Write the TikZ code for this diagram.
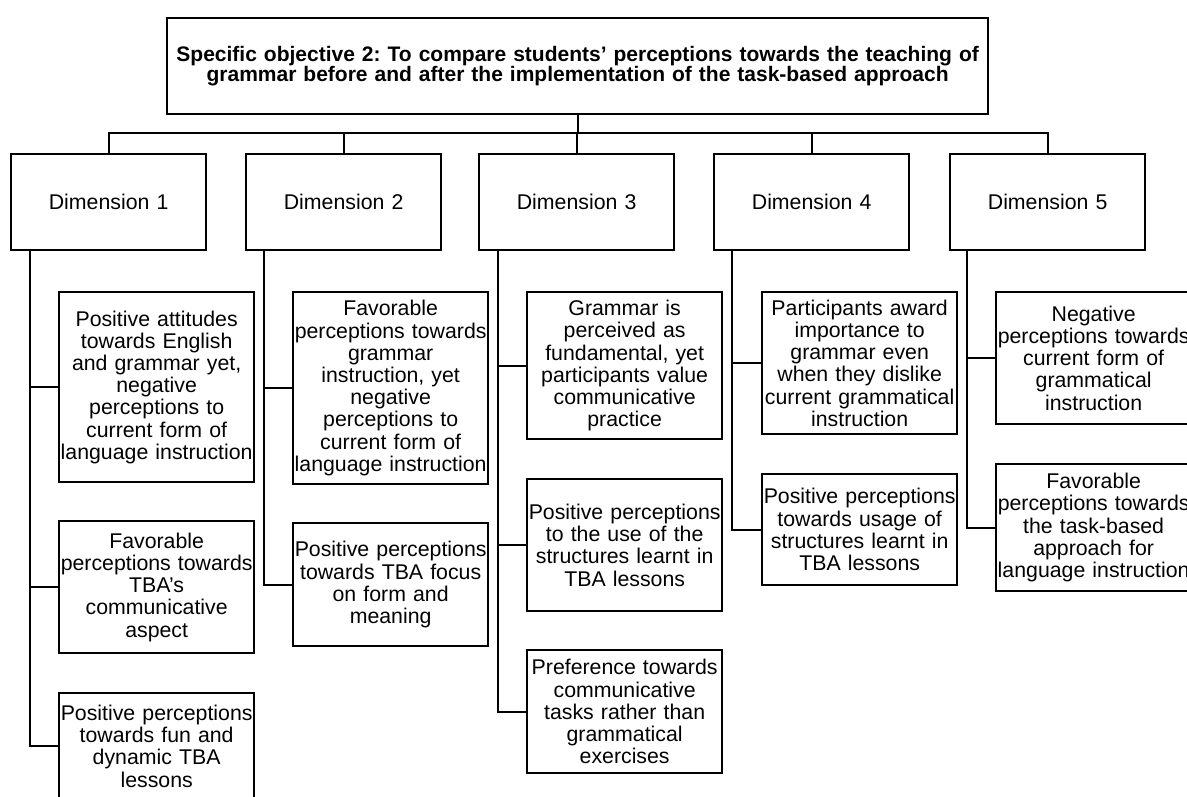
\documentclass[tikz,border=0pt]{standalone}
\usepackage{fontspec}
\setmainfont{Liberation Sans}
\frenchspacing
\begin{document}
\begin{tikzpicture}[x=1pt,y=-1pt,
  box/.style={draw=black,line width=2.3pt,fill=white,inner xsep=1.5pt,inner ysep=0pt,
    align=center,font=\fontsize{21.3}{22.2}\selectfont},
  topbox/.style={box,anchor=north west,minimum width=821pt,minimum height=96pt,
    text width=815pt,font=\fontsize{21}{18}\selectfont\bfseries},
  dimbox/.style={box,anchor=north west,minimum width=195pt,minimum height=96pt,text width=190pt},
  leaf/.style={box,anchor=north west,minimum width=195pt,text width=192pt},
  link/.style={line width=2.3pt,line join=miter}
]
\useasboundingbox (0,0) rectangle (1187,796);
\fill[white] (0,0) rectangle (1187,796);

\node[topbox] (top) at (166,17) {Specific objective 2: To compare students’ perceptions towards the teaching of\\grammar before and after the implementation of the task-based approach};

\node[dimbox] (d1) at (10,153) {Dimension 1};
\node[dimbox] (d2) at (245,153) {Dimension 2};
\node[dimbox] (d3) at (478,153) {Dimension 3};
\node[dimbox] (d4) at (713,153) {Dimension 4};
\node[dimbox] (d5) at (949,153) {Dimension 5};

\coordinate (bus) at (0,133);
\draw[link] (top.south) -- (top.south |- bus);
\draw[link] (d1.north) -- (d1.north |- bus) -- (d5.north |- bus) -- (d5.north);
\foreach \d in {d2,d3,d4} \draw[link] (\d.north) -- (\d.north |- bus);

% Dimension 1 leaves
\node[leaf,minimum height=190pt] (l11) at (58,291) {Positive attitudes\\towards English\\and grammar yet,\\negative\\perceptions to\\current form of\\language instruction};
\node[leaf,minimum height=132pt] (l12) at (58,520) {Favorable\\perceptions towards\\TBA’s\\communicative\\aspect};
\node[leaf,minimum height=106pt] (l13) at (58,692) {Positive perceptions\\towards fun and\\dynamic TBA\\lessons};

% Dimension 2 leaves
\node[leaf,minimum height=192pt] (l21) at (292,291) {Favorable\\perceptions towards\\grammar\\instruction, yet\\negative\\perceptions to\\current form of\\language instruction};
\node[leaf,minimum height=123pt] (l22) at (292,522) {Positive perceptions\\towards TBA focus\\on form and\\meaning};

% Dimension 3 leaves
\node[leaf,minimum height=147pt] (l31) at (526,291) {Grammar is\\perceived as\\fundamental, yet\\participants value\\communicative\\practice};
\node[leaf,minimum height=132pt] (l32) at (526,478) {Positive perceptions\\to the use of the\\structures learnt in\\TBA lessons};
\node[leaf,minimum height=123pt] (l33) at (526,649) {Preference towards\\communicative\\tasks rather than\\grammatical\\exercises};

% Dimension 4 leaves
\node[leaf,minimum height=142pt] (l41) at (761,291) {Participants award\\importance to\\grammar even\\when they dislike\\current grammatical\\instruction};
\node[leaf,minimum height=111pt] (l42) at (761,473) {Positive perceptions\\towards usage of\\structures learnt in\\TBA lessons};

% Dimension 5 leaves
\node[leaf,minimum height=132pt] (l51) at (995,291) {Negative\\perceptions towards\\current form of\\grammatical\\instruction};
\node[leaf,minimum height=127pt] (l52) at (995,463) {Favorable\\perceptions towards\\the task-based\\approach for\\language instruction};

% trunks
\coordinate[xshift=20pt] (t1) at (d1.south west);
\coordinate[xshift=19pt] (t2) at (d2.south west);
\coordinate[xshift=20pt] (t3) at (d3.south west);
\coordinate[xshift=19pt] (t4) at (d4.south west);
\coordinate[xshift=18pt] (t5) at (d5.south west);

\draw[link] (t1) |- (l13.west);
\draw[link] (t1 |- l11.west) -- (l11.west);
\draw[link] (t1 |- l12.west) -- (l12.west);

\draw[link] (t2) |- (l22.west);
\draw[link] (t2 |- l21.west) -- (l21.west);

\draw[link] (t3) |- (l33.west);
\draw[link] (t3 |- l31.west) -- (l31.west);
\draw[link] (t3 |- l32.west) -- (l32.west);

\draw[link] (t4) |- (l42.west);
\draw[link] (t4 |- l41.west) -- (l41.west);

\draw[link] (t5) |- (l52.west);
\draw[link] (t5 |- l51.west) -- (l51.west);
\end{tikzpicture}
\end{document}
